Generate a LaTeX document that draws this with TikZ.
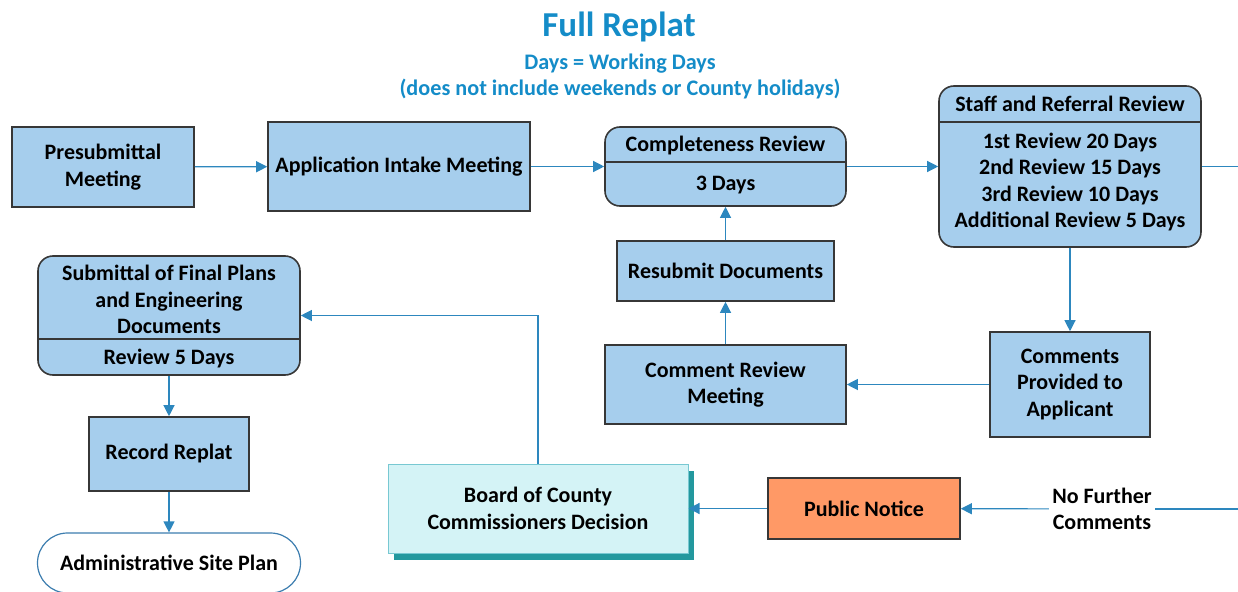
\documentclass[tikz,border=0pt]{standalone}
\usepackage{fontspec}
\setmainfont{Carlito}
\usetikzlibrary{arrows.meta}
\usetikzlibrary{shadows}

\definecolor{boxfill}{RGB}{166,206,237}
\definecolor{boxline}{RGB}{55,55,55}
\definecolor{flow}{RGB}{45,135,190}
\definecolor{titleblue}{RGB}{20,140,200}
\definecolor{bccfill}{RGB}{212,243,246}
\definecolor{bccline}{RGB}{120,200,210}
\definecolor{bccshadow}{RGB}{35,152,158}
\definecolor{noticefill}{RGB}{255,153,102}
\definecolor{siteline}{RGB}{60,125,175}

\begin{document}
\begin{tikzpicture}[x=1pt,y=-1pt,
    font=\fontsize{22}{26.4}\selectfont\bfseries,
    >={Triangle[length=11pt,width=11pt]},
    flowline/.style={draw=flow,line width=1.2pt},
    box/.style={draw=boxline,fill=boxfill,line width=1.6pt,align=center,inner sep=0pt},
    rbox/.style={box,rounded corners=15pt},
    split/.style={draw=boxline,line width=1.6pt}]
    \useasboundingbox (0,0) rectangle (1238,591);

    \node[font=\fontsize{35}{40}\selectfont\bfseries,text=titleblue] (title) at (619,27) {Full Replat};
    \node[font=\fontsize{22.2}{26}\selectfont\bfseries,text=titleblue,align=center] (subtitle) at (620,76) {Days = Working Days\\(does not include weekends or County holidays)};

    \node[box,minimum width=182pt,minimum height=80pt] (pre) at (103,167) {Presubmittal\\Meeting};
    \node[box,minimum width=262pt,minimum height=89pt] (intake) at (399,166.5) {Application Intake Meeting};

    \node[rbox,minimum width=241pt,minimum height=79pt] (compl) at (725.5,166.5) {};
    \draw[split] (compl.west |- 0,162) -- (compl.east |- 0,162);
    \node (compl-head) at (725.5,146) {Completeness Review};
    \node (compl-body) at (725.5,185.5) {3 Days};

    \node[rbox,minimum width=262pt,minimum height=161pt] (staff) at (1070,166.5) {};
    \draw[split] (staff.west |- 0,122) -- (staff.east |- 0,122);
    \node (staff-head) at (1070,104) {Staff and Referral Review};
    \node[align=center] (staff-body) at (1070,182) {1st Review 20 Days\\2nd Review 15 Days\\3rd Review 10 Days\\Additional Review 5 Days};

    \node[rbox,minimum width=262pt,minimum height=119pt] (final) at (169,315.5) {};
    \draw[split] (final.west |- 0,339) -- (final.east |- 0,339);
    \node[align=center] (final-head) at (169,299.5) {Submittal of Final Plans\\and Engineering\\Documents};
    \node (final-body) at (169,358.5) {Review 5 Days};

    \node[box,minimum width=217pt,minimum height=60pt] (resub) at (725.5,271) {Resubmit Documents};
    \node[box,minimum width=241pt,minimum height=79pt] (review) at (725.5,384.5) {Comment Review\\Meeting};
    \node[box,minimum width=160pt,minimum height=105pt] (comments) at (1070,384.5) {Comments\\Provided to\\Applicant};
    \node[box,minimum width=160pt,minimum height=74pt] (record) at (169,454) {Record Replat};
    \node[draw=siteline,fill=white,line width=1.2pt,rounded corners=30pt,minimum width=263pt,minimum height=60pt] (site) at (169,563) {Administrative Site Plan};
    \node[draw=bccline,fill=bccfill,line width=1pt,align=center,minimum width=300pt,minimum height=89pt,
        drop shadow={shadow xshift=6pt,shadow yshift=-7pt,fill=bccshadow,opacity=1}] (board) at (538,508.5) {Board of County\\Commissioners Decision};
    \node[box,fill=noticefill,minimum width=192pt,minimum height=61pt] (notice) at (864,508.5) {Public Notice};
    \node[fill=white,align=center] (nofurther) at (1102,509) {No Further\\Comments};
    \coordinate (edgeA) at (1238,166.5);
    \coordinate (edgeB) at (1238,509);

    \draw[flowline,->] (pre) -- (intake);
    \draw[flowline,->] (intake) -- (compl);
    \draw[flowline,->] (compl) -- (staff);
    \draw[flowline] (staff) -- (edgeA);
    \draw[flowline,->] (staff) -- (comments);
    \draw[flowline,->] (comments) -- (review);
    \draw[flowline,->] (review) -- (resub);
    \draw[flowline,->] (resub) -- (compl);
    \draw[flowline,->] (board) |- (final);
    \draw[flowline,->] (final) -- (record);
    \draw[flowline,->] (record) -- (site);
    \draw[flowline] (edgeB) -- (nofurther);
    \draw[flowline,->] (nofurther) -- (notice);
    \draw[flowline,->] (notice) -- (board);
\end{tikzpicture}
\end{document}
